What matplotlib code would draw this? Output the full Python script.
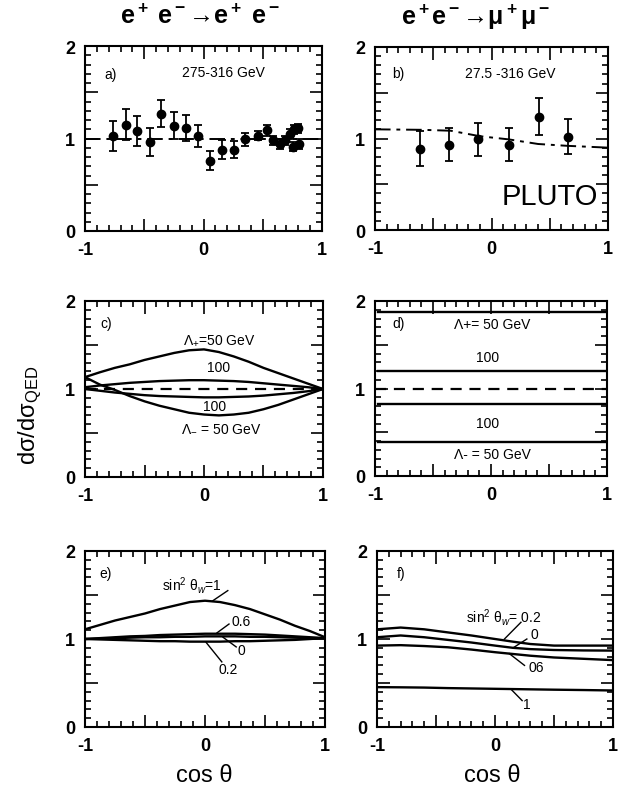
import matplotlib
matplotlib.use("Agg")
import matplotlib.pyplot as plt
from matplotlib.ticker import MultipleLocator, FuncFormatter

plt.rcParams['font.family'] = ['Liberation Sans', 'DejaVu Sans']
plt.rcParams['mathtext.fontset'] = 'custom'
plt.rcParams['mathtext.rm'] = 'Liberation Sans'
plt.rcParams['mathtext.it'] = 'Liberation Sans:italic'
plt.rcParams['mathtext.bf'] = 'Liberation Sans:bold'

# ---- panel a: e+e- -> e+e- data ----
a_x = [-0.765, -0.655, -0.557, -0.455, -0.358, -0.249, -0.15, -0.05, 0.053, 0.158, 0.26,
       0.353, 0.46, 0.54, 0.59, 0.644, 0.686, 0.73, 0.765, 0.794, 0.753, 0.808]
a_y = [1.03, 1.15, 1.08, 0.96, 1.27, 1.14, 1.11, 1.03, 0.76, 0.88, 0.88,
       0.99, 1.03, 1.09, 0.98, 0.94, 0.98, 1.05, 1.10, 1.11, 0.91, 0.94]
a_err = [0.16, 0.17, 0.16, 0.15, 0.15, 0.15, 0.14, 0.12, 0.10, 0.10, 0.09,
         0.07, 0.05, 0.06, 0.05, 0.05, 0.05, 0.05, 0.05, 0.05, 0.05, 0.05]
a_fit_x = [-1.0, 0.0, 1.0]
a_fit_y = [1.0, 1.0, 1.0]

# ---- panel b: e+e- -> mu+mu- data ----
b_x = [-0.615, -0.365, -0.117, 0.154, 0.404, 0.66]
b_y = [0.89, 0.93, 0.99, 0.93, 1.24, 1.02]
b_err = [0.19, 0.18, 0.18, 0.18, 0.20, 0.19]
b_fit_x = [-1.0, -0.6, -0.35, -0.1, 0.15, 0.4, 0.65, 1.0]
b_fit_y = [1.10, 1.095, 1.085, 1.025, 0.99, 0.94, 0.92, 0.90]

# ---- panel c: contact terms, Bhabha ----
c_x = [-1.0, -0.875, -0.75, -0.625, -0.5, -0.375, -0.25, -0.125, 0.0,
       0.125, 0.25, 0.375, 0.5, 0.625, 0.75, 0.875, 1.0]
c_plus50 = [1.135, 1.19, 1.24, 1.28, 1.33, 1.37, 1.41, 1.44, 1.45,
            1.42, 1.37, 1.31, 1.24, 1.18, 1.12, 1.06, 1.0]
c_plus100 = [1.02, 1.04, 1.055, 1.07, 1.08, 1.09, 1.095, 1.10, 1.10,
             1.095, 1.09, 1.08, 1.065, 1.05, 1.035, 1.02, 1.0]
c_minus100 = [1.0, 0.98, 0.96, 0.945, 0.93, 0.92, 0.915, 0.91, 0.905,
              0.905, 0.91, 0.915, 0.925, 0.94, 0.955, 0.975, 1.0]
c_minus50 = [1.135, 1.05, 0.99, 0.92, 0.86, 0.81, 0.77, 0.73, 0.71,
             0.70, 0.71, 0.73, 0.77, 0.82, 0.88, 0.94, 1.0]
c_qed = [1.0, 1.0]

# ---- panel d: contact terms, mu pairs ----
d_plus50 = 1.87
d_plus100 = 1.20
d_qed = 1.0
d_minus100 = 0.82
d_minus50 = 0.39

# ---- panel e: weak interference, Bhabha ----
e_x = [-1.0, -0.875, -0.75, -0.625, -0.5, -0.375, -0.25, -0.125, 0.0,
       0.125, 0.25, 0.375, 0.5, 0.625, 0.75, 0.875, 1.0]
e_s1 = [1.11, 1.16, 1.21, 1.25, 1.29, 1.34, 1.38, 1.42, 1.435,
        1.42, 1.385, 1.34, 1.28, 1.22, 1.15, 1.09, 1.02]
e_s06 = [1.0, 1.01, 1.02, 1.03, 1.035, 1.045, 1.05, 1.055, 1.06,
         1.06, 1.06, 1.055, 1.05, 1.04, 1.03, 1.02, 1.01]
e_s0 = [1.0, 1.005, 1.01, 1.015, 1.02, 1.02, 1.025, 1.025, 1.03,
        1.03, 1.03, 1.025, 1.025, 1.02, 1.015, 1.01, 1.01]
e_s02 = [1.0, 0.995, 0.99, 0.985, 0.98, 0.975, 0.975, 0.97, 0.97,
         0.97, 0.975, 0.975, 0.98, 0.985, 0.99, 1.0, 1.01]

# ---- panel f: weak interference, mu pairs ----
f_x = [-1.0, -0.8, -0.6, -0.4, -0.2, 0.0, 0.15, 0.3, 0.5, 0.75, 1.0]
f_s02 = [1.11, 1.13, 1.11, 1.075, 1.04, 1.0, 0.97, 0.943, 0.925, 0.925, 0.925]
f_s0 = [1.02, 1.04, 1.02, 0.99, 0.96, 0.925, 0.90, 0.885, 0.875, 0.87, 0.868]
f_s06 = [0.925, 0.93, 0.92, 0.906, 0.88, 0.85, 0.83, 0.81, 0.79, 0.775, 0.76]
f_s1 = [0.453, 0.451, 0.448, 0.442, 0.438, 0.434, 0.431, 0.428, 0.424, 0.42, 0.415]

W, H = 618, 803
fig = plt.figure(figsize=(W / 100, H / 100), dpi=100)


def frac(x0, y0, x1, y1):
    return [x0 / W, 1 - y1 / H, (x1 - x0) / W, (y1 - y0) / H]


ax_a = fig.add_axes(frac(85, 47, 322, 232))
ax_b = fig.add_axes(frac(375, 48, 608, 231))
ax_c = fig.add_axes(frac(85, 302, 323, 478))
ax_d = fig.add_axes(frac(375, 302, 607, 477))
ax_e = fig.add_axes(frac(85, 552, 325, 728))
ax_f = fig.add_axes(frac(377, 552, 613, 728))


def fmt(v, p):
    if abs(v - round(v)) < 1e-6:
        return '%d' % int(round(v))
    return ''


def style(ax):
    ax.set_xlim(-1, 1)
    ax.set_ylim(0, 2)
    for a in (ax.xaxis, ax.yaxis):
        a.set_major_locator(MultipleLocator(0.5))
        a.set_minor_locator(MultipleLocator(0.1))
        a.set_major_formatter(FuncFormatter(fmt))
    ax.tick_params(which='both', direction='in', top=True, right=True,
                   width=1.2, labelsize=13, pad=7)
    ax.tick_params(which='major', length=9)
    ax.tick_params(which='minor', length=4.5)
    for lab in ax.get_xticklabels() + ax.get_yticklabels():
        lab.set_fontweight('bold')
    for s in ax.spines.values():
        s.set_linewidth(1.5)


for ax in (ax_a, ax_b, ax_c, ax_d, ax_e, ax_f):
    style(ax)

LW = 1.7
TXT = dict(fontsize=10, color='black')
LEAD = dict(color='black', lw=1.0)

# panel a
ax_a.plot(a_fit_x, a_fit_y, color='black', lw=1.4, ls=(0, (8, 3, 2, 3)))
ax_a.errorbar(a_x, a_y, yerr=a_err, fmt='o', color='black', ms=6, capsize=3,
              elinewidth=1.3, capthick=1.3)
ax_a.text(-0.84, 1.70, 'a)', ha='left', va='center', **TXT)
ax_a.text(0.17, 1.72, '275-316 GeV', ha='center', va='center', **TXT)

# panel b
ax_b.plot(b_fit_x, b_fit_y, color='black', lw=1.4, ls=(0, (8, 3, 2, 3)))
ax_b.errorbar(b_x, b_y, yerr=b_err, fmt='o', color='black', ms=6, capsize=3,
              elinewidth=1.3, capthick=1.3)
ax_b.text(-0.85, 1.72, 'b)', ha='left', va='center', **TXT)
ax_b.text(0.16, 1.72, '27.5 -316 GeV', ha='center', va='center', **TXT)
ax_b.text(0.5, 0.37, 'PLUTO', ha='center', va='center', fontsize=21)

# panel c
for yy in (c_plus50, c_plus100, c_minus100, c_minus50):
    ax_c.plot(c_x, yy, color='black', lw=LW)
ax_c.plot([-1, 1], c_qed, color='black', lw=1.6, ls=(0, (5, 3.5)))
ax_c.text(-0.87, 1.75, 'c)', ha='left', va='center', **TXT)
ax_c.text(0.13, 1.56, 'Λ$_{+}$=50 GeV', ha='center', va='center', **TXT)
ax_c.text(0.125, 1.25, '100', ha='center', va='center', **TXT)
ax_c.text(0.09, 0.81, '100', ha='center', va='center', **TXT)
ax_c.text(0.14, 0.57, 'Λ$_{-}$ = 50 GeV', ha='center', va='center', **TXT)

# panel d
for yy in (d_plus50, d_plus100, d_minus100, d_minus50):
    ax_d.plot([-0.97, 1], [yy, yy], color='black', lw=LW)
ax_d.plot([-1, 1], [d_qed, d_qed], color='black', lw=1.6, ls=(0, (5, 3.5)))
ax_d.text(-0.85, 1.75, 'd)', ha='left', va='center', **TXT)
ax_d.text(0.01, 1.74, 'Λ+= 50 GeV', ha='center', va='center', **TXT)
ax_d.text(-0.03, 1.36, '100', ha='center', va='center', **TXT)
ax_d.text(-0.03, 0.60, '100', ha='center', va='center', **TXT)
ax_d.text(0.01, 0.25, 'Λ- = 50 GeV', ha='center', va='center', **TXT)

# panel e
for yy in (e_s1, e_s06, e_s0, e_s02):
    ax_e.plot(e_x, yy, color='black', lw=LW)
ax_e.text(-0.11, 1.62, 'sin$^2$ θ$_{w}$=1', ha='center', va='center', **TXT)
ax_e.text(-0.88, 1.75, 'e)', ha='left', va='center', **TXT)
ax_e.plot([0.19, 0.06], [1.55, 1.43], **LEAD)
ax_e.text(0.30, 1.20, '0.6', ha='center', va='center', **TXT)
ax_e.plot([0.20, 0.10], [1.17, 1.07], **LEAD)
ax_e.text(0.30, 0.87, '0', ha='center', va='center', **TXT)
ax_e.plot([0.26, 0.15], [0.91, 1.02], **LEAD)
ax_e.text(0.19, 0.66, '0.2', ha='center', va='center', **TXT)
ax_e.plot([0.14, 0.01], [0.74, 0.96], **LEAD)

# panel f
for yy in (f_s02, f_s0, f_s06, f_s1):
    ax_f.plot(f_x, yy, color='black', lw=LW)
ax_f.text(-0.83, 1.75, 'f)', ha='left', va='center', **TXT)
ax_f.text(0.07, 1.26, 'sin$^2$ θ$_{w}$= 0.2', ha='center', va='center', **TXT)
ax_f.plot([0.22, 0.08], [1.19, 1.0], **LEAD)
ax_f.text(0.33, 1.06, '0', ha='center', va='center', **TXT)
ax_f.plot([0.27, 0.16], [1.0, 0.905], **LEAD)
ax_f.text(0.35, 0.68, '06', ha='center', va='center', **TXT)
ax_f.plot([0.25, 0.12], [0.70, 0.835], **LEAD)
ax_f.text(0.27, 0.26, '1', ha='center', va='center', **TXT)
ax_f.plot([0.23, 0.135], [0.30, 0.43], **LEAD)

# figure texts
fig.text(200 / W, 1 - 17 / H, r'e$^{\bf+}$ e$^{\bf-}$→e$^{\bf+}$ e$^{\bf-}$',
         ha='center', va='center', fontsize=18, fontweight='bold')
fig.text(476 / W, 1 - 17 / H, r'e$^{\bf+}$e$^{\bf-}$→μ$^{\bf+}$μ$^{\bf-}$',
         ha='center', va='center', fontsize=18, fontweight='bold')
fig.text(30 / W, 1 - 415 / H, r'dσ/dσ$_{\rm QED}$', rotation=90,
         ha='center', va='center', fontsize=17)
fig.text(204 / W, 1 - 776 / H, 'cos θ', ha='center', va='center', fontsize=17)
fig.text(492 / W, 1 - 776 / H, 'cos θ', ha='center', va='center', fontsize=17)

fig.savefig('out.png', dpi=100)
